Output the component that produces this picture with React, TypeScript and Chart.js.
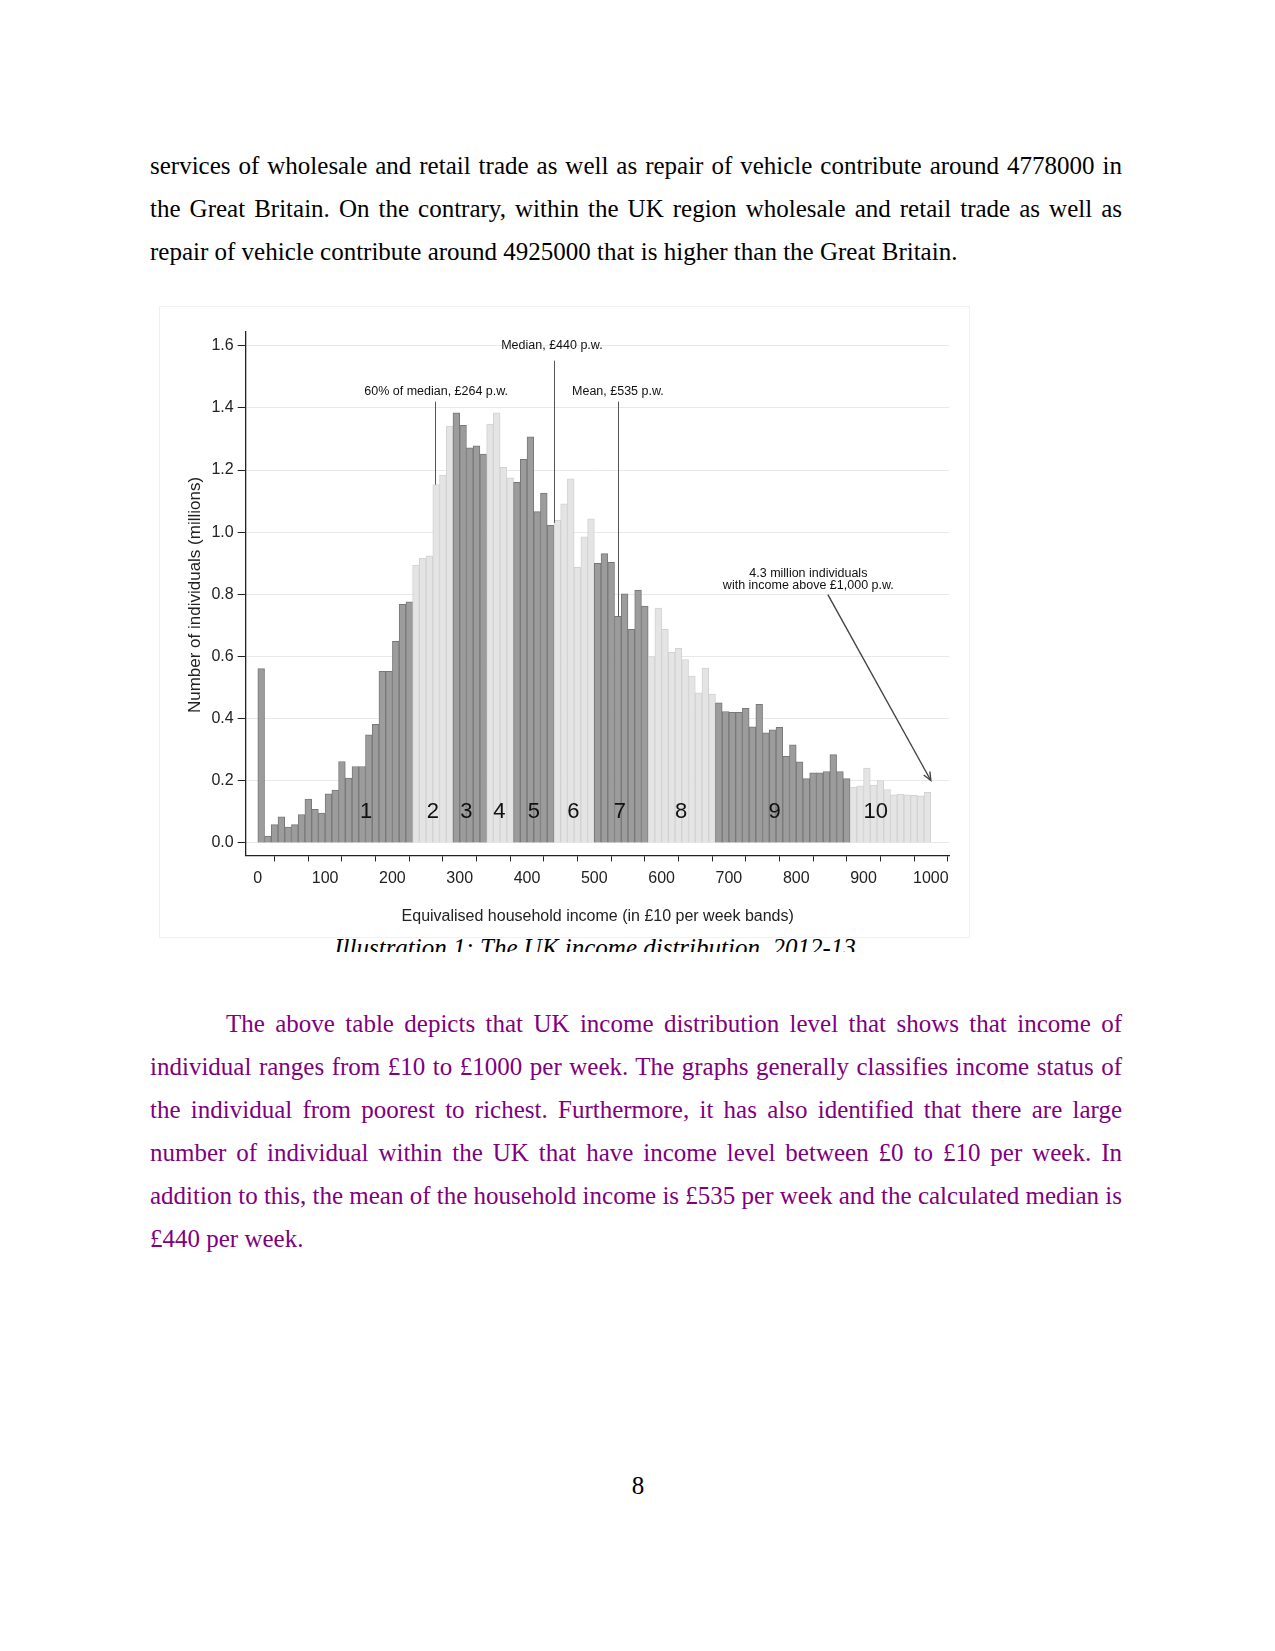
import { useEffect, useRef } from "react";
import { Chart, registerables } from "chart.js";

Chart.register(...registerables);

// Income band start (£ per week), each band is £10 wide
const bandStarts = [
  0, 10, 20, 30, 40, 50, 60, 70, 80, 90,
  100, 110, 120, 130, 140, 150, 160, 170, 180, 190,
  200, 210, 220, 230, 240, 250, 260, 270, 280, 290,
  300, 310, 320, 330, 340, 350, 360, 370, 380, 390,
  400, 410, 420, 430, 440, 450, 460, 470, 480, 490,
  500, 510, 520, 530, 540, 550, 560, 570, 580, 590,
  600, 610, 620, 630, 640, 650, 660, 670, 680, 690,
  700, 710, 720, 730, 740, 750, 760, 770, 780, 790,
  800, 810, 820, 830, 840, 850, 860, 870, 880, 890,
  900, 910, 920, 930, 940, 950, 960, 970, 980, 990,
];

// Number of individuals (millions)
const individualsMillions = [
  0.561, 0.022, 0.059, 0.084, 0.051, 0.059, 0.091, 0.141, 0.108, 0.096,
  0.158, 0.170, 0.262, 0.209, 0.246, 0.246, 0.348, 0.382, 0.552, 0.552,
  0.649, 0.768, 0.776, 0.894, 0.917, 0.924, 1.153, 1.184, 1.341, 1.384,
  1.344, 1.271, 1.278, 1.251, 1.348, 1.384, 1.209, 1.175, 1.160, 1.234,
  1.307, 1.066, 1.126, 1.022, 1.038, 1.091, 1.172, 0.887, 0.985, 1.043,
  0.900, 0.931, 0.903, 0.729, 0.802, 0.687, 0.814, 0.762, 0.600, 0.756,
  0.687, 0.613, 0.626, 0.590, 0.537, 0.483, 0.563, 0.479, 0.451, 0.423,
  0.420, 0.420, 0.433, 0.374, 0.446, 0.354, 0.364, 0.372, 0.279, 0.316,
  0.261, 0.207, 0.226, 0.226, 0.230, 0.284, 0.230, 0.207, 0.180, 0.184,
  0.241, 0.186, 0.201, 0.172, 0.155, 0.157, 0.155, 0.153, 0.152, 0.163,
];

// Decile groups: first band of each decile
const decileStarts = [0, 230, 290, 340, 380, 440, 500, 580, 680, 880];
const decileLabels = ["1", "2", "3", "4", "5", "6", "7", "8", "9", "10"];
const decileLabelX = [161, 260, 310, 359, 410, 469, 538, 629, 768, 918];

const yTickValues = [0, 0.2, 0.4, 0.6, 0.8, 1.0, 1.2, 1.4, 1.6];
const xTickValues = [0, 50, 100, 150, 200, 250, 300, 350, 400, 450, 500, 550, 600, 650, 700, 750, 800, 850, 900, 950, 1000];
const xLabelValues = [0, 100, 200, 300, 400, 500, 600, 700, 800, 900, 1000];

const medianValue = 440;
const povertyValue = 264;
const meanValue = 535;

const CHART_FONT = '"Liberation Sans", Arial, sans-serif';
const SERIF = '"Liberation Serif", "Times New Roman", serif';
const PURPLE = "#800080";
const FS = 25;
const BASE_OFF = 29.9;

function decileIndex(start: number) {
  let idx = 0;
  for (let i = 0; i < decileStarts.length; i++) if (start >= decileStarts[i]) idx = i;
  return idx;
}

const annotationPlugin = {
  id: "incomeAnnotations",
  afterDatasetsDraw(chart: any) {
    const { ctx, scales } = chart;
    const x = scales.x;
    const y = scales.y;
    const px = (v: number) => x.getPixelForValue(v);
    const py = (v: number) => y.getPixelForValue(v);
    ctx.save();
    ctx.strokeStyle = "#555";
    ctx.lineWidth = 1;
    const vline = (u: number, a: number, b: number) => {
      ctx.beginPath();
      ctx.moveTo(Math.round(px(u)) + 0.5, py(a));
      ctx.lineTo(Math.round(px(u)) + 0.5, py(b));
      ctx.stroke();
    };
    vline(povertyValue, 1.42, 1.153);
    vline(medianValue, 1.552, 1.03);
    vline(meanValue, 1.42, 0.729);

    ctx.fillStyle = "#111";
    ctx.font = `12.5px ${CHART_FONT}`;
    ctx.textAlign = "center";
    ctx.textBaseline = "middle";
    ctx.fillText("Median, £440 p.w.", px(437), py(1.602));
    ctx.fillText("60% of median, £264 p.w.", px(265), py(1.451));
    ctx.fillText("Mean, £535 p.w.", px(535), py(1.451));
    ctx.fillText("4.3 million individuals", px(818), py(0.868));
    ctx.fillText("with income above £1,000 p.w.", px(818), py(0.828));

    const x1 = px(847), y1 = py(0.799), x2 = px(1000), y2 = py(0.201);
    ctx.strokeStyle = "#444";
    ctx.lineWidth = 1.4;
    ctx.beginPath();
    ctx.moveTo(x1, y1);
    ctx.lineTo(x2, y2);
    ctx.stroke();
    const ang = Math.atan2(y2 - y1, x2 - x1);
    const hl = 9;
    ctx.beginPath();
    ctx.moveTo(x2 - hl * Math.cos(ang - 0.4), y2 - hl * Math.sin(ang - 0.4));
    ctx.lineTo(x2, y2);
    ctx.lineTo(x2 - hl * Math.cos(ang + 0.4), y2 - hl * Math.sin(ang + 0.4));
    ctx.stroke();

    ctx.fillStyle = "#111";
    ctx.font = `22px ${CHART_FONT}`;
    decileLabels.forEach((lab, i) => {
      ctx.fillText(lab, px(decileLabelX[i]), py(0.1));
    });

    ctx.fillStyle = "#222";
    ctx.font = `16px ${CHART_FONT}`;
    ctx.fillText("Equivalised household income (in £10 per week bands)", 437.7, 609.5);
    ctx.save();
    ctx.translate(35, 288);
    ctx.rotate(-Math.PI / 2);
    ctx.font = `17px ${CHART_FONT}`;
    ctx.fillText("Number of individuals (millions)", 0, 0);
    ctx.restore();
    ctx.restore();
  },
};

function IncomeChart() {
  const ref = useRef<HTMLCanvasElement | null>(null);
  useEffect(() => {
    if (!ref.current) return;
    const data = bandStarts.map((s, i) => ({ x: s + 5, y: individualsMillions[i] }));
    const fills = bandStarts.map((s) => (decileIndex(s) % 2 === 0 ? "#9c9c9c" : "#e4e4e4"));
    const borders = bandStarts.map((s) => (decileIndex(s) % 2 === 0 ? "#787878" : "#d2d2d2"));
    const chart = new Chart(ref.current, {
      type: "bar",
      data: {
        datasets: [
          {
            data,
            backgroundColor: fills,
            borderColor: borders,
            borderWidth: 1,
            barPercentage: 1,
            categoryPercentage: 1,
          } as any,
        ],
      },
      options: {
        animation: false,
        responsive: false,
        devicePixelRatio: 1,
        events: [],
        layout: { padding: { left: 0, top: 24.4, right: 20, bottom: 0 } },
        plugins: { legend: { display: false }, tooltip: { enabled: false } },
        scales: {
          x: {
            type: "linear",
            min: -18,
            max: 1027,
            offset: false,
            afterFit: (s: any) => {
              s.height = 81.6;
            },
            afterBuildTicks: (s: any) => {
              s.ticks = xTickValues.map((v) => ({ value: v }));
            },
            grid: {
              drawOnChartArea: false,
              drawTicks: true,
              tickLength: 6,
              tickColor: "#222",
              color: "#222",
            },
            border: { display: true, color: "#222", width: 1.3 },
            ticks: {
              autoSkip: false,
              maxRotation: 0,
              padding: 8,
              color: "#222",
              font: { family: CHART_FONT, size: 16 },
              callback: (v: any) => (xLabelValues.includes(Number(v)) ? String(v) : ""),
            },
          },
          y: {
            type: "linear",
            min: -0.04,
            max: 1.646,
            afterFit: (s: any) => {
              s.width = 85.7;
            },
            afterBuildTicks: (s: any) => {
              s.ticks = yTickValues.map((v) => ({ value: v }));
            },
            grid: {
              drawOnChartArea: true,
              drawTicks: true,
              tickLength: 8,
              tickColor: "#222",
              color: "#e8e8e8",
              lineWidth: 1,
            },
            border: { display: true, color: "#222", width: 1.3 },
            ticks: {
              padding: 4,
              color: "#222",
              font: { family: CHART_FONT, size: 16 },
              callback: (v: any) => Number(v).toFixed(1),
            },
          },
        },
      },
      plugins: [annotationPlugin],
    });
    return () => chart.destroy();
  }, []);
  return (
    <canvas
      ref={ref}
      width={809}
      height={630}
      style={{ position: "absolute", left: 160, top: 307, width: 809, height: 630 }}
    />
  );
}

const para1Lines = [
  "services of wholesale and retail trade as well as repair of vehicle contribute around 4778000 in",
  "the Great Britain. On the contrary, within the UK region  wholesale and retail trade as well as",
  "repair of vehicle contribute around 4925000 that is higher than the Great Britain.",
];
const para1Baselines = [174, 217, 260];

const para2Lines = [
  "The above table depicts that UK income distribution level that shows that income of",
  "individual ranges from £10 to £1000 per week. The graphs generally classifies income status of",
  "the individual from poorest to richest. Furthermore, it has also identified that there are large",
  "number of individual within the UK that have income level between £0 to £10 per week. In",
  "addition to this, the mean of the household income is £535 per week and the calculated median is",
  "£440 per week.",
];
const para2Baselines = [1031.5, 1074.6, 1117.7, 1160.8, 1203.9, 1247];

function TextLine(props: { text: string; baseline: number; left: number; width: number; justify: boolean; color: string }) {
  const { text, baseline, left, width, justify, color } = props;
  return (
    <div
      style={{
        position: "absolute",
        left,
        top: baseline - BASE_OFF,
        width,
        height: 43,
        lineHeight: "43px",
        fontFamily: SERIF,
        fontSize: FS,
        color,
        whiteSpace: justify ? "normal" : "nowrap",
        textAlign: justify ? "justify" : "left",
        textAlignLast: justify ? "justify" : "left",
      } as any}
    >
      {text}
    </div>
  );
}

export default function App() {
  return (
    <div
      style={{
        position: "absolute",
        left: 0,
        top: 0,
        width: 1275,
        height: 1651,
        background: "#fff",
        overflow: "hidden",
      }}
    >
      {para1Lines.map((t, i) => (
        <TextLine key={"p1" + i} text={t} baseline={para1Baselines[i]} left={150} width={972} justify={i < para1Lines.length - 1} color="#000" />
      ))}

      <div
        style={{
          position: "absolute",
          left: 159,
          top: 306,
          width: 809,
          height: 630,
          border: "1px solid #f0f0f0",
        }}
      />
      <IncomeChart />

      <div style={{ position: "absolute", left: 0, top: 938, width: 1275, height: 13.5, overflow: "hidden" }}>
        <div
          style={{
            position: "absolute",
            left: 0,
            top: 956 - BASE_OFF - 938,
            width: 1190,
            textAlign: "center",
            lineHeight: "43px",
            fontFamily: SERIF,
            fontStyle: "italic",
            fontSize: FS,
            color: "#000",
            whiteSpace: "nowrap",
          }}
        >
          Illustration 1: The UK income distribution, 2012-13
        </div>
      </div>

      {para2Lines.map((t, i) => (
        <TextLine
          key={"p2" + i}
          text={t}
          baseline={para2Baselines[i]}
          left={i === 0 ? 226 : 150}
          width={i === 0 ? 896 : 972}
          justify={i < para2Lines.length - 1}
          color={PURPLE}
        />
      ))}

      <div
        style={{
          position: "absolute",
          left: 588,
          top: 1494 - BASE_OFF,
          width: 100,
          textAlign: "center",
          lineHeight: "43px",
          fontFamily: SERIF,
          fontSize: FS,
          color: "#000",
        }}
      >
        8
      </div>
    </div>
  );
}
